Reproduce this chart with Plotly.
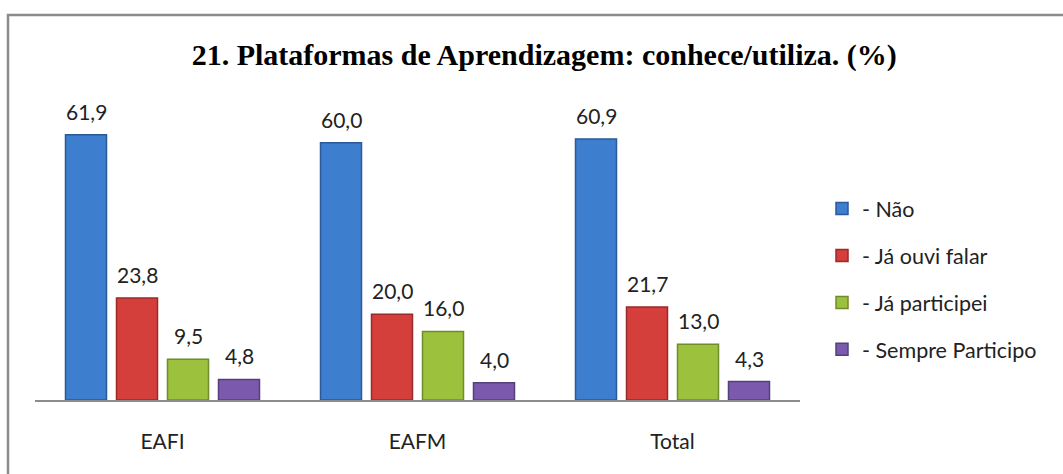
import plotly.graph_objects as go

categories = ["EAFI", "EAFM", "Total"]
series_names = ["- Não", "- Já ouvi falar", "- Já participei", "- Sempre Participo"]
nao = [61.9, 60.0, 60.9]
ja_ouvi = [23.8, 20.0, 21.7]
ja_participei = [9.5, 16.0, 13.0]
sempre = [4.8, 4.0, 4.3]
title_text = "21. Plataformas de Aprendizagem: conhece/utiliza. (%)"

values = [nao, ja_ouvi, ja_participei, sempre]
fills = ["#3E7ECE", "#D43F3C", "#9CC23D", "#7B59AD"]
edges = ["#2A5A98", "#9A2A28", "#6F8C2A", "#56407C"]

W, H = 1063, 474
L, R, T, B = 35, 263, 100, 74
pw, ph = W - L - R, H - T - B
BARGAP, GROUPGAP = 0.2, 0.196
n = len(values)

fig = go.Figure()
for i, (name, vals) in enumerate(zip(series_names, values)):
    fig.add_trace(go.Bar(
        x=categories, y=vals, name=name,
        marker=dict(color=fills[i], line=dict(color=edges[i], width=1.5)),
        legendgroup=str(i),
    ))

# value labels placed above each bar
slot_px = pw / len(categories) * (1 - BARGAP) / n
for i, vals in enumerate(values):
    for cat, v in zip(categories, vals):
        fig.add_annotation(x=cat, y=v, xref="x", yref="y",
                           text=f"{v:.1f}".replace(".", ","),
                           showarrow=False, yanchor="bottom",
                           xshift=(i - (n - 1) / 2) * slot_px, yshift=9,
                           font=dict(family="Lato", size=21, color="#222222"))

def px_to_paper_x(px):
    return (px - L) / pw

def px_to_paper_y(py):
    return (H - B - py) / ph

fig.add_shape(type="rect", xref="paper", yref="paper",
              x0=px_to_paper_x(8), x1=px_to_paper_x(1075),
              y0=px_to_paper_y(485), y1=px_to_paper_y(15),
              line=dict(color="#8c8c8c", width=2.5), layer="below")

fig.update_layout(
    width=W, height=H,
    margin=dict(l=L, r=R, t=T, b=B),
    paper_bgcolor="white", plot_bgcolor="white",
    separators=",.",
    barmode="group", bargap=BARGAP, bargroupgap=GROUPGAP,
    title=dict(text="<b>" + title_text + "</b>", x=0.512, xanchor="center",
               y=1 - 54 / H, yanchor="middle",
               font=dict(family="Liberation Serif", size=30, color="#000000")),
    legend=dict(x=px_to_paper_x(822), xanchor="left", y=px_to_paper_y(188), yanchor="top",
                font=dict(family="Lato", size=21.5, color="#222222"),
                tracegroupgap=16, bgcolor="rgba(0,0,0,0)"),
    showlegend=True,
)
fig.update_xaxes(showline=True, linecolor="#8c8c8c", linewidth=1.5, ticks="",
                 tickfont=dict(family="Lato", size=21, color="#222222"),
                 ticklabelstandoff=22, showgrid=False)
fig.update_yaxes(range=[0, 70], visible=False, showgrid=False)

fig.write_html("out.html", config={"displayModeBar": False},
               post_script="document.body.style.margin='0';")
